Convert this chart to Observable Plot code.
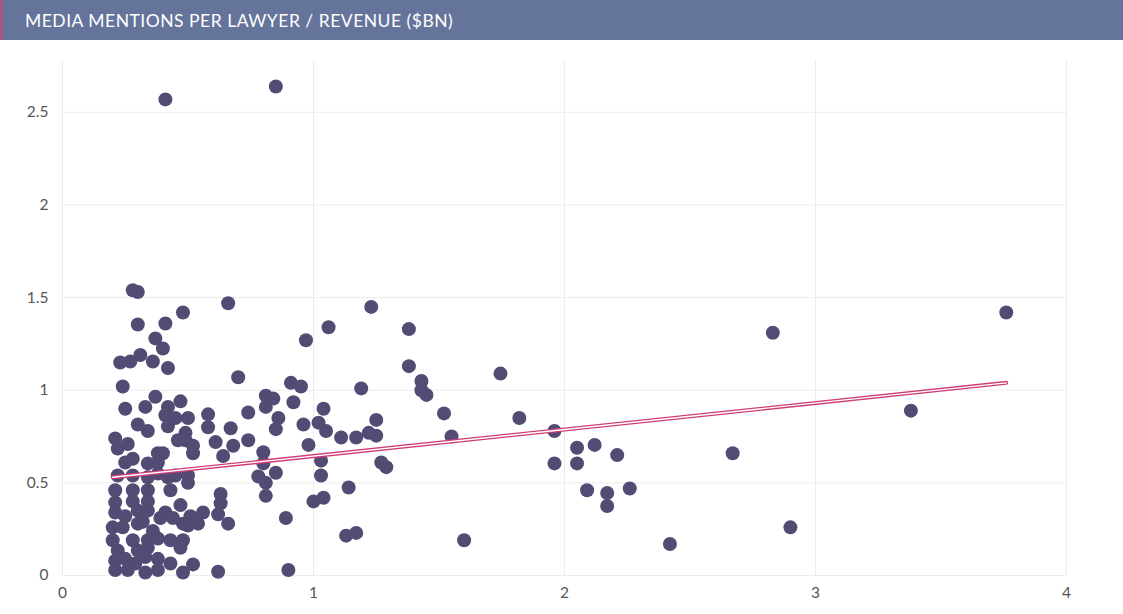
<!DOCTYPE html>
<html>
<head>
<meta charset="utf-8">
<script src="https://cdn.jsdelivr.net/npm/d3@7"></script>
<script src="https://cdn.jsdelivr.net/npm/@observablehq/plot@0.6"></script>
<style>
  html, body { margin: 0; padding: 0; background: #fff; }
  #title {
    height: 40px; box-sizing: border-box; background: #65749a; color: #fff;
    font-family: Lato, "Open Sans", sans-serif; font-size: 17.5px; line-height: 41px;
    padding-left: 22px; border-left: 3px solid #a4577f; letter-spacing: 0.5px;
  }
  #chart svg { display: block; }
</style>
</head>
<body>
<div id="title">MEDIA MENTIONS PER LAWYER / REVENUE ($BN)</div>
<div id="chart"></div>
<script>
const titleText = "MEDIA MENTIONS PER LAWYER / REVENUE ($BN)";

// Revenue ($bn) per firm
const revenue = [
  0.41, 0.85,
  0.28, 0.30, 0.66, 0.48, 0.30, 0.41, 0.37, 0.40, 0.31, 0.23, 0.27, 0.36, 0.42, 0.70,
  0.24, 0.37, 0.47, 0.25, 0.33, 0.42, 0.41, 0.45, 0.50, 0.58, 0.74, 0.30, 0.42, 0.58,
  0.67, 0.34, 0.49,
  0.21, 0.46, 0.49, 0.52, 0.52, 0.61, 0.68, 0.74, 0.22, 0.26, 0.25, 0.28, 0.38, 0.40,
  0.34, 0.38, 0.64, 0.22, 0.28, 0.34, 0.38, 0.42, 0.45, 0.50, 0.50, 0.21, 0.28, 0.34,
  0.43, 0.63, 0.21, 0.28, 0.34, 0.47, 0.63, 0.21, 0.25, 0.30, 0.34, 0.41, 0.44, 0.39,
  0.51, 0.56, 0.62, 0.54, 0.50, 0.66, 0.20, 0.24, 0.30, 0.32, 0.36, 0.48, 0.20, 0.28,
  0.34, 0.38, 0.43, 0.48, 0.22, 0.30, 0.34, 0.47, 0.21, 0.25, 0.33, 0.38, 0.21, 0.26,
  0.29, 0.33, 0.38, 0.43, 0.48, 0.52, 0.62,
  0.91, 0.95, 1.19, 0.81, 0.84, 0.81, 0.92, 1.04, 0.86, 0.85, 0.96, 1.02, 1.05, 1.25,
  1.11, 1.17, 1.22, 1.25, 0.98, 0.80, 0.80, 1.03, 0.85, 0.78, 1.03, 0.81, 0.81, 1.14,
  1.00, 1.04, 0.89, 1.13, 1.17, 0.90, 0.97, 1.06,
  1.23, 1.38, 1.38, 1.43, 1.43, 1.45, 1.745, 1.52, 1.82, 1.55, 1.96, 1.27, 1.29, 2.05,
  2.12, 2.21, 1.96, 2.05, 2.09, 2.17, 2.17, 1.60, 2.26, 2.67, 2.83, 2.90, 2.42, 3.38, 3.76
];
// Media mentions per lawyer
const mentions = [
  2.57, 2.64,
  1.54, 1.53, 1.47, 1.42, 1.355, 1.36, 1.28, 1.225, 1.19, 1.15, 1.155, 1.155, 1.12, 1.07,
  1.02, 0.965, 0.94, 0.90, 0.91, 0.91, 0.865, 0.85, 0.85, 0.87, 0.88, 0.815, 0.805, 0.80,
  0.795, 0.78, 0.77,
  0.74, 0.73, 0.73, 0.70, 0.66, 0.72, 0.70, 0.73, 0.685, 0.71, 0.61, 0.63, 0.66, 0.66,
  0.605, 0.61, 0.645, 0.54, 0.54, 0.53, 0.55, 0.53, 0.54, 0.54, 0.50, 0.46, 0.46, 0.46,
  0.46, 0.44, 0.395, 0.40, 0.40, 0.38, 0.39, 0.34, 0.32, 0.35, 0.35, 0.34, 0.31, 0.31,
  0.32, 0.34, 0.33, 0.28, 0.27, 0.28, 0.26, 0.26, 0.28, 0.29, 0.24, 0.28, 0.19, 0.19,
  0.19, 0.20, 0.19, 0.19, 0.135, 0.135, 0.15, 0.15, 0.08, 0.09, 0.10, 0.09, 0.03, 0.03,
  0.065, 0.016, 0.03, 0.065, 0.016, 0.06, 0.02,
  1.04, 1.02, 1.01, 0.97, 0.955, 0.91, 0.935, 0.90, 0.85, 0.79, 0.815, 0.825, 0.78, 0.84,
  0.745, 0.745, 0.77, 0.755, 0.705, 0.665, 0.605, 0.62, 0.555, 0.535, 0.54, 0.50, 0.43, 0.475,
  0.40, 0.42, 0.31, 0.215, 0.23, 0.03, 1.27, 1.34,
  1.45, 1.33, 1.13, 1.05, 1.00, 0.975, 1.09, 0.875, 0.85, 0.75, 0.78, 0.61, 0.585, 0.69,
  0.705, 0.65, 0.605, 0.605, 0.46, 0.445, 0.375, 0.19, 0.47, 0.66, 1.31, 0.26, 0.17, 0.89, 1.42
];
// Trend line end points
const trendX = [0.2, 3.76];
const trendY = [0.53, 1.04];

const xTicks = [0, 1, 2, 3, 4];
const yTicks = [0, 0.5, 1, 1.5, 2, 2.5];
const fmt = d => String(d);

const points = revenue.map((x, i) => ({x, y: mentions[i]}));
const trend = trendX.map((x, i) => ({x, y: trendY[i]}));

const chart = Plot.plot({
  width: 1123,
  height: 574,
  marginLeft: 62,
  marginRight: 57,
  marginTop: 20,
  marginBottom: 39,
  style: {fontFamily: "Lato, 'Open Sans', sans-serif", fontSize: "15px", color: "#555", background: "#fff"},
  x: {domain: [0, 4], label: null},
  y: {domain: [0, 2.78], label: null},
  marks: [
    Plot.gridX(xTicks, {stroke: "#ececec", strokeOpacity: 1}),
    Plot.gridY(yTicks, {stroke: "#ececec", strokeOpacity: 1}),
    Plot.axisX(xTicks, {tickSize: 0, tickPadding: 11, fill: "#555", fontSize: 15.5, tickFormat: fmt, label: null}),
    Plot.axisY(yTicks, {tickSize: 0, tickPadding: 14, fill: "#555", fontSize: 15.5, tickFormat: fmt, label: null}),
    Plot.dot(points, {x: "x", y: "y", r: 7, fill: "#534b73", stroke: "none"}),
    Plot.line(trend, {x: "x", y: "y", stroke: "#cf3d78", strokeWidth: 4}),
    Plot.line(trend, {x: "x", y: "y", stroke: "#ffffff", strokeWidth: 1.4})
  ]
});
document.getElementById("chart").appendChild(chart);
</script>
</body>
</html>
